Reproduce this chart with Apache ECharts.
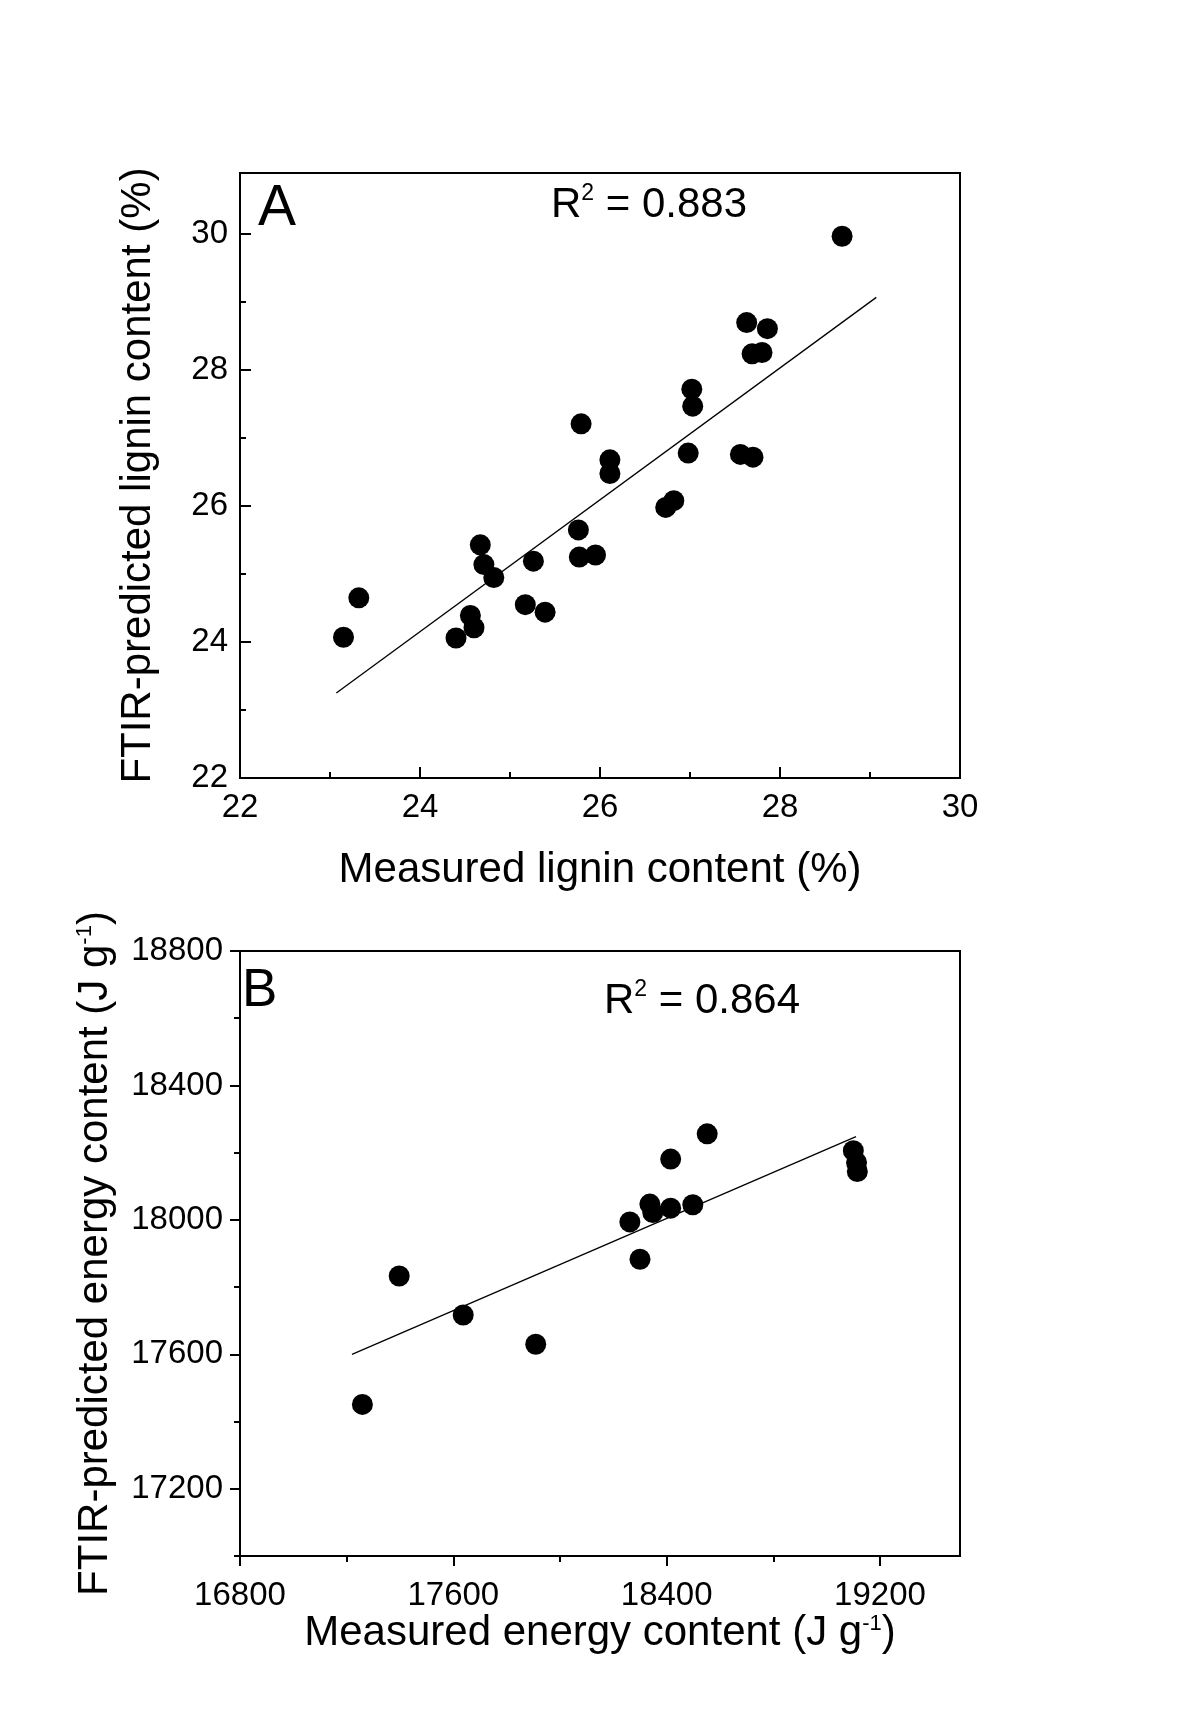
<!DOCTYPE html>
<html>
<head>
<meta charset="utf-8">
<script src="https://cdn.jsdelivr.net/npm/echarts@6/dist/echarts.min.js"></script>
<style>
html,body{margin:0;padding:0;background:#fff;}
#c{width:1200px;height:1729px;}
</style>
</head>
<body>
<div id="c"></div>
<script>
// ---- Panel A data (lignin, %) ----
const ligninMeasured = [23.15,23.32,24.40,24.56,24.60,24.67,24.71,24.82,25.17,25.26,25.39,25.76,25.77,25.95,25.79,26.11,26.11,26.73,26.82,26.98,27.02,27.03,27.56,27.70,27.63,27.86,27.69,27.80,28.69];
const ligninPredicted = [24.07,24.65,24.06,24.39,24.21,25.43,25.14,24.95,24.55,25.19,24.44,25.65,25.25,25.28,27.21,26.68,26.48,25.98,26.08,26.78,27.72,27.47,26.76,26.72,28.70,28.61,28.24,28.26,29.97];
const ligninFitX = [23.07, 29.07];
const ligninFitY = [23.25, 29.07];
const ligninR2 = '0.883';
const ticksAX = [22,24,26,28,30];
const minorAX = [23,25,27,29];
const ticksAY = [22,24,26,28,30];
const minorAY = [23,25,27,29];

// ---- Panel B data (energy, J g-1) ----
const energyMeasured = [17259,17397,17637,17909,18262,18300,18337,18348,18415,18415,18498,18552,19100,19112,19115];
const energyPredicted = [17451,17833,17717,17630,17994,17883,18047,18022,18035,18181,18045,18256,18206,18171,18144];
const energyFitX = [17220, 19110];
const energyFitY = [17600, 18248];
const energyR2 = '0.864';
const ticksBX = [16800,17600,18400,19200];
const minorBX = [17200,18000,18800];
const ticksBY = [17200,17600,18000,18400,18800];
const minorBY = [17000,17400,17800,18200,18600];

const FONT = "'Liberation Sans', Arial, Helvetica, sans-serif";
const zip = (a,b) => a.map((v,i)=>[v,b[i]]);
const SUP = {sup:{fontSize:22, fontFamily:FONT, color:'#000', verticalAlign:'top', lineHeight:22}};
const R2RICH = {
  m:{fontSize:42, fontFamily:FONT, color:'#000', lineHeight:44, verticalAlign:'bottom'},
  s:{fontSize:23, fontFamily:FONT, color:'#000', lineHeight:23, verticalAlign:'top', padding:[0,0,26,0]}
};

function majorAxis(o){
  return Object.assign({
    type:'value', scale:true,
    axisLine:{show:true, onZero:false, lineStyle:{color:'#000', width:2}},
    axisTick:{show:true, inside:o.inside, length:o.len, customValues:o.ticks, lineStyle:{color:'#000', width:2}},
    axisLabel:{show:true, customValues:o.ticks, color:'#000', fontSize:33, fontFamily:FONT, margin:o.margin, formatter:(v)=>String(v)},
    splitLine:{show:false},
    nameLocation:'middle',
    nameTextStyle:{color:'#000', fontSize:42, fontFamily:FONT, rich:SUP}
  }, o.extra);
}
function minorAxis(o){
  return Object.assign({
    type:'value', scale:true,
    axisLine:{show:false, onZero:false},
    axisTick:{show:true, inside:o.inside, length:6, customValues:o.ticks, lineStyle:{color:'#000', width:2}},
    axisLabel:{show:false},
    splitLine:{show:false}
  }, o.extra);
}

const chart = echarts.init(document.getElementById('c'), null, {renderer:'canvas'});
const option = {
  backgroundColor:'#fff',
  animation:false,
  grid:[
    {left:240, top:173, width:720, height:605, show:true, borderColor:'#000', borderWidth:2, backgroundColor:'transparent'},
    {left:240, top:951, width:720, height:605, show:true, borderColor:'#000', borderWidth:2, backgroundColor:'transparent'}
  ],
  xAxis:[
    majorAxis({inside:true, len:11, ticks:ticksAX, margin:13, extra:{gridIndex:0, position:'bottom', min:22, max:30, name:'Measured lignin content (%)', nameGap:71}}),
    minorAxis({inside:true, ticks:minorAX, extra:{gridIndex:0, position:'bottom', min:22, max:30}}),
    majorAxis({inside:false, len:10, ticks:ticksBX, margin:23, extra:{gridIndex:1, position:'bottom', min:16800, max:19500, name:'Measured energy content (J g{sup|-1})', nameGap:55}}),
    minorAxis({inside:false, ticks:minorBX, extra:{gridIndex:1, position:'bottom', min:16800, max:19500}})
  ],
  yAxis:[
    majorAxis({inside:true, len:11, ticks:ticksAY, margin:12, extra:{gridIndex:0, position:'left', min:22, max:30.9, name:'FTIR-predicted lignin content (%)', nameGap:81}}),
    minorAxis({inside:true, ticks:minorAY, extra:{gridIndex:0, position:'left', min:22, max:30.9}}),
    majorAxis({inside:false, len:10, ticks:ticksBY, margin:17, extra:{gridIndex:1, position:'left', min:17000, max:18800, name:'FTIR-predicted energy content (J g{sup|-1})', nameGap:124}}),
    minorAxis({inside:false, ticks:minorBY, extra:{gridIndex:1, position:'left', min:17000, max:18800}})
  ],
  series:[
    {type:'line', xAxisIndex:0, yAxisIndex:0, data:zip(ligninFitX, ligninFitY), symbol:'none', lineStyle:{color:'#000', width:1.3}, z:2},
    {type:'scatter', xAxisIndex:0, yAxisIndex:0, data:zip(ligninMeasured, ligninPredicted), symbol:'circle', symbolSize:21, itemStyle:{color:'#000', opacity:1}, z:3},
    {type:'line', xAxisIndex:2, yAxisIndex:2, data:zip(energyFitX, energyFitY), symbol:'none', lineStyle:{color:'#000', width:1.3}, z:2},
    {type:'scatter', xAxisIndex:2, yAxisIndex:2, data:zip(energyMeasured, energyPredicted), symbol:'circle', symbolSize:21, itemStyle:{color:'#000', opacity:1}, z:3}
  ],
  title:[
    {text:'A', left:258, top:181, padding:0, textStyle:{fontSize:57, fontWeight:'normal', color:'#000', fontFamily:FONT}},
    {text:'B', left:242, top:965, padding:0, textStyle:{fontSize:53, fontWeight:'normal', color:'#000', fontFamily:FONT}},
    {text:'{m|R}{s|2}{m| = '+ligninR2+'}', left:551, top:182, padding:0, textStyle:{fontSize:42, fontWeight:'normal', color:'#000', fontFamily:FONT, rich:R2RICH}},
    {text:'{m|R}{s|2}{m| = '+energyR2+'}', left:604, top:978, padding:0, textStyle:{fontSize:42, fontWeight:'normal', color:'#000', fontFamily:FONT, rich:R2RICH}}
  ]
};
chart.setOption(option);
</script>
</body>
</html>
